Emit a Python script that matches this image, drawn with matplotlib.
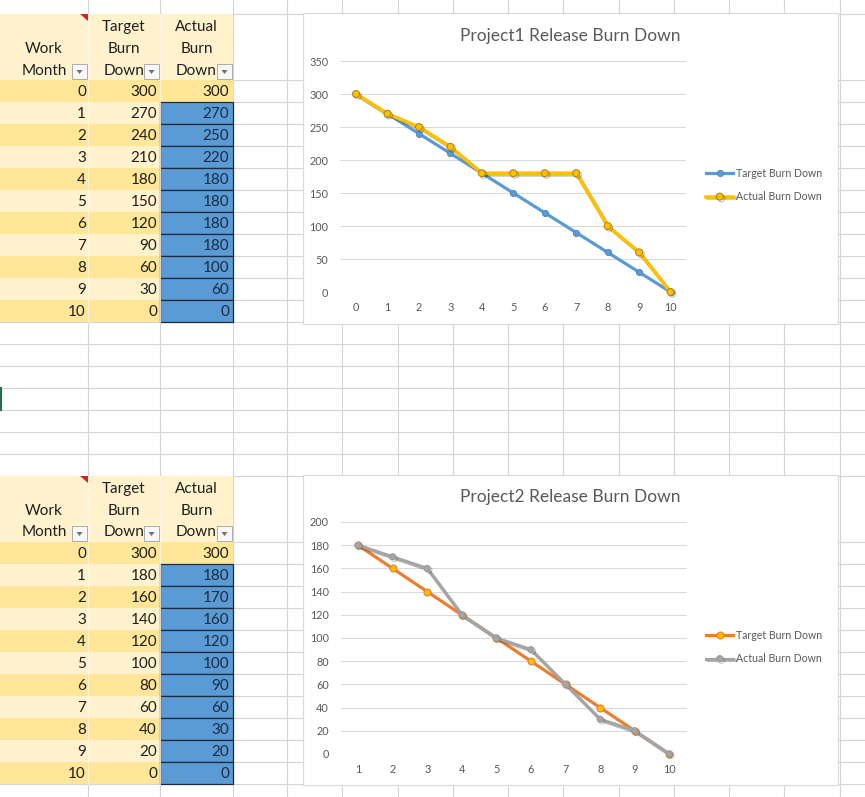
import numpy as np
import matplotlib.pyplot as plt
from matplotlib.patches import Rectangle, Polygon
import matplotlib.patheffects as pe

plt.rcParams['font.family'] = ['Lato', 'DejaVu Sans']

# table / chart data
months = [0, 1, 2, 3, 4, 5, 6, 7, 8, 9, 10]
target1 = [300, 270, 240, 210, 180, 150, 120, 90, 60, 30, 0]
actual1 = [300, 270, 250, 220, 180, 180, 180, 180, 100, 60, 0]
target2 = [300, 180, 160, 140, 120, 100, 80, 60, 40, 20, 0]
actual2 = [300, 180, 170, 160, 120, 100, 90, 60, 30, 20, 0]
headers = [['Work', 'Month'], ['Target', 'Burn', 'Down'], ['Actual', 'Burn', 'Down']]
titles = ['Project1 Release Burn Down', 'Project2 Release Burn Down']
series_names = ['Target Burn Down', 'Actual Burn Down']
y_ticks1 = [0, 50, 100, 150, 200, 250, 300, 350]
y_ticks2 = [0, 20, 40, 60, 80, 100, 120, 140, 160, 180, 200]

W, H = 865, 797
fig = plt.figure(figsize=(W / 100, H / 100), dpi=100)
bg = fig.add_axes([0, 0, 1, 1])
bg.set_xlim(0, W)
bg.set_ylim(H, 0)
bg.axis('off')


def fig_rect(x0, y0, x1, y1):
    # pixel box (top-left origin) -> figure fraction
    return [x0 / W, 1 - y1 / H, (x1 - x0) / W, (y1 - y0) / H]


# sheet gridlines
grid_c = '#D4D4D4'
col_edges = [88, 160, 233, 287, 342, 398, 453, 508, 563, 619, 674, 729, 784, 840]
row_edges = [14] + list(range(80, 477, 22)) + list(range(542, 785, 22))
for x in col_edges:
    bg.plot([x, x], [0, H], color=grid_c, lw=0.8, zorder=1)
for y in row_edges:
    bg.plot([0, W], [y, y], color=grid_c, lw=0.8, zorder=1)
bg.plot([0.8, 0.8], [388, 410], color='#217346', lw=1.5, zorder=1)

band_dark = '#FFE699'
band_light = '#FFF2CC'
blue = '#5B9BD5'
col_left = [0, 88, 160]
col_w = [88, 72, 73]
col_right_text = [86, 157, 229]


def draw_table(top, target, actual):
    bg.add_patch(Rectangle((0, top), 233, 66, facecolor=band_light, edgecolor='none', zorder=2))
    # comment marker
    bg.add_patch(Polygon([[80, top], [88, top], [88, top + 7]], closed=True,
                         facecolor='#E02020', edgecolor='none', zorder=4))
    for j, lines in enumerate(headers):
        cx = col_left[j] + col_w[j] / 2
        for k, line in enumerate(lines[::-1]):
            bg.text(cx, top + 56.5 - 21.7 * k, line, ha='center', va='center',
                    fontsize=11, color='#1f1f1f', zorder=4)
        # filter button
        bx = col_left[j] + col_w[j] - 16
        bg.add_patch(Rectangle((bx, top + 50), 15, 15, facecolor='#F7F7F7',
                               edgecolor='#ABABAB', lw=0.7, zorder=5))
        bg.add_patch(Polygon([[bx + 4.5, top + 56], [bx + 10.5, top + 56], [bx + 7.5, top + 60]],
                             closed=True, facecolor='#707070', edgecolor='none', zorder=6))
    for i, m in enumerate(months):
        y = top + 66 + 22 * i
        band = band_dark if i % 2 == 0 else band_light
        vals = [m, target[i], actual[i]]
        for j in range(3):
            if j == 2 and i > 0:
                bg.add_patch(Rectangle((col_left[j], y), col_w[j], 22, facecolor=blue,
                                       edgecolor='#1E2A3A', lw=0.9, zorder=3))
                tc = '#1B2B45'
            else:
                bg.add_patch(Rectangle((col_left[j], y), col_w[j], 22, facecolor=band,
                                       edgecolor='none', zorder=2))
                tc = '#1f1f1f'
            bg.text(col_right_text[j], y + 11.5, str(vals[j]), ha='right', va='center',
                    fontsize=11, color=tc, zorder=4)
    # faint inner separators
    for x in [88, 160]:
        bg.plot([x, x], [top, top + 66 + 22 * 11], color='#FFF8E8', lw=0.6, zorder=3)


draw_table(14, target1, actual1)
draw_table(476, target2, actual2)

# chart frames
for (x0, y0, x1, y1) in [(303, 13, 838, 324), (303, 475, 838, 785)]:
    bg.add_patch(Rectangle((x0, y0), x1 - x0, y1 - y0, facecolor='white',
                           edgecolor='#D9D9D9', lw=0.8, zorder=7))

shadow = [pe.SimpleLineShadow(offset=(1.2, -1.2), shadow_color='k', alpha=0.25), pe.Normal()]
label_c = '#595959'


def setup_axes(ax, xlim, ylim, yticks, xticks):
    ax.set_xlim(*xlim)
    ax.set_ylim(*ylim)
    ax.set_yticks(yticks)
    ax.set_xticks(xticks)
    ax.grid(axis='y', color='#D9D9D9', lw=0.75)
    ax.set_axisbelow(True)
    for s in ax.spines.values():
        s.set_visible(False)
    ax.tick_params(length=0, labelsize=7.8, labelcolor=label_c)
    ax.tick_params(axis='y', pad=8.5)
    ax.tick_params(axis='x', pad=7)
    ax.patch.set_alpha(0)


# chart 1
ax1 = fig.add_axes(fig_rect(340.3, 61, 686.3, 292))
setup_axes(ax1, (-0.5, 10.5), (0, 350), y_ticks1, months)
ax1.plot(months, target1, color='#5B9BD5', lw=2.3, marker='o', ms=4.5,
         mfc='#5B9BD5', mec='#4A86C0', mew=0.6, clip_on=False, label=series_names[0], zorder=3)
ax1.plot(months, actual1, color='#FFC000', lw=2.6, marker='o', ms=5,
         mfc='#FFC000', mec='#B8860B', mew=0.8, clip_on=False, label=series_names[1],
         path_effects=shadow, zorder=4)
fig.text(570 / W, 1 - 35.7 / H, titles[0], ha='center', va='center', fontsize=12.5, color=label_c)
ax1.legend(loc='center left', bbox_to_anchor=(706 / W, 1 - 185 / H), bbox_transform=fig.transFigure,
           frameon=False, fontsize=7.6, labelcolor=label_c, borderaxespad=0, borderpad=0,
           handlelength=2.6, handletextpad=0.2, labelspacing=1.2)

# chart 2 (months 1..10 only)
ax2 = fig.add_axes(fig_rect(340.7, 522, 686.6, 754))
setup_axes(ax2, (0.5, 10.5), (0, 200), y_ticks2, months[1:])
ax2.plot(months[1:], target2[1:], color='#ED7D31', lw=2.3, marker='o', ms=5,
         mfc='#FFC000', mec='#ED7D31', mew=0.8, clip_on=False, label=series_names[0], zorder=3)
ax2.plot(months[1:], actual2[1:], color='#A5A5A5', lw=2.3, marker='o', ms=4.5,
         mfc='#A5A5A5', mec='#999999', mew=0.6, clip_on=False, label=series_names[1],
         path_effects=shadow, zorder=4)
fig.text(570 / W, 1 - 497 / H, titles[1], ha='center', va='center', fontsize=12.5, color=label_c)
ax2.legend(loc='center left', bbox_to_anchor=(706 / W, 1 - 647 / H), bbox_transform=fig.transFigure,
           frameon=False, fontsize=7.6, labelcolor=label_c, borderaxespad=0, borderpad=0,
           handlelength=2.6, handletextpad=0.2, labelspacing=1.2)

fig.savefig('out.png', dpi=100)
